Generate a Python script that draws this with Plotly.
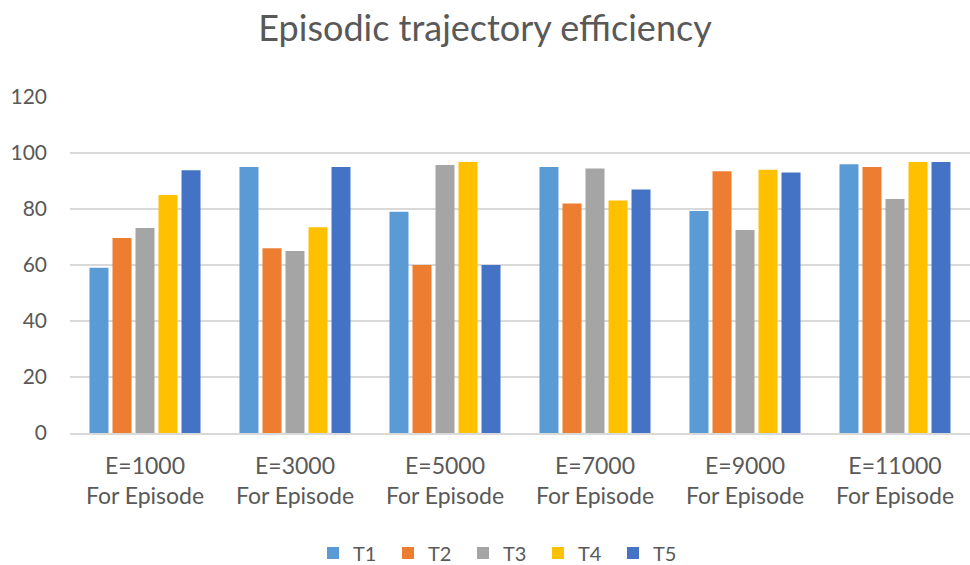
import plotly.graph_objects as go

categories = ["E=1000<br>For Episode", "E=3000<br>For Episode", "E=5000<br>For Episode",
              "E=7000<br>For Episode", "E=9000<br>For Episode", "E=11000<br>For Episode"]
series_names = ["T1", "T2", "T3", "T4", "T5"]
T1 = [59, 95, 79, 95, 79.3, 96]
T2 = [69.6, 66, 60, 82, 93.5, 95]
T3 = [73.2, 65, 95.7, 94.5, 72.5, 83.6]
T4 = [85, 73.5, 96.8, 83, 94, 96.8]
T5 = [93.8, 95, 60, 87, 93, 96.8]
values = [T1, T2, T3, T4, T5]
colors = ["#5B9BD5", "#ED7D31", "#A5A5A5", "#FFC000", "#4472C4"]
y_ticks = [0, 20, 40, 60, 80, 100, 120]

FONT = "Lato, 'Open Sans', sans-serif"
GREY = "#595959"

fig = go.Figure()
for name, vals, col in zip(series_names, values, colors):
    fig.add_trace(go.Bar(name=name, x=categories, y=vals, marker_color=col,
                         marker_line_width=0))

fig.update_layout(
    width=970, height=565,
    margin=dict(l=70, r=0, t=97, b=132),
    paper_bgcolor="white", plot_bgcolor="white",
    barmode="group", bargap=0.233, bargroupgap=0.174,
    font=dict(family=FONT, color=GREY, size=21),
    title=dict(text="Episodic trajectory efficiency", x=0.5, xanchor="center",
               y=1 - 28 / 565, yanchor="middle", yref="container",
               font=dict(size=36, color=GREY, family=FONT)),
    showlegend=True,
    legend=dict(orientation="h", xref="container", x=313 / 970, xanchor="left",
                yref="container", y=1 - 553 / 565, yanchor="middle",
                font=dict(size=20, color=GREY), entrywidth=30, entrywidthmode="pixels",
                itemwidth=30, traceorder="normal"),
)
fig.update_yaxes(range=[0, 120], tickvals=y_ticks, showgrid=True, gridcolor="#D9D9D9",
                 gridwidth=1.5, zeroline=False, showline=False, ticks="",
                 ticklabelstandoff=22, tickfont=dict(size=21, color=GREY))
fig.update_xaxes(showline=True, linecolor="#D9D9D9", linewidth=1.5, ticks="",
                 tickfont=dict(size=23, color=GREY), ticklabelstandoff=12)

fig.write_html("out.html")
